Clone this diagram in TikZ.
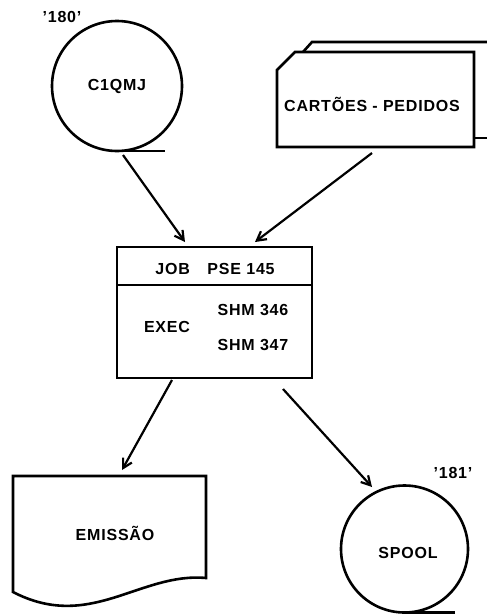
\documentclass[tikz,border=0pt]{standalone}
\usepackage{fontspec}
\setmainfont{Liberation Sans}[LetterSpace=5]
\usetikzlibrary{arrows.meta}
\begin{document}
\begin{tikzpicture}[x=1pt,y=-1pt,
  every node/.style={font=\fontsize{16}{18}\selectfont\bfseries, inner sep=0pt, outer sep=0pt},
  shapeline/.style={line width=2.6pt},
  storage/.style={circle, draw, shapeline},
  holder/.style={draw=none},
  arr/.style={line width=2.2pt, -{Straight Barb[length=9pt,width=10pt,line width=2.2pt]}}
]
\path[use as bounding box] (0,0) rectangle (487,614);

% C1QMJ disk
\node[storage, minimum size=130pt] (c1) at (117,86) {};
\node (c1t) at (117,86) {C1QMJ};
\draw[shapeline] (c1.south) -- ++(48,0);
\node (l180) at (62,17) {'180'};

% cards
\node[holder, minimum width=197pt, minimum height=95pt] (cards) at (375.5,99.5) {};
\draw[shapeline] (303,52) -- (312,42) -- (487,42);
\draw[shapeline] (cards.east |- 0,138) -- (487,138);
\draw[shapeline] (277,70) -- (295,52) -- (cards.north east) -- (cards.south east) -- (cards.south west) -- cycle;
\node (cardst) at (372,104) {CARTÕES - PEDIDOS};

% job box
\node[draw, shapeline, minimum width=195pt, minimum height=131pt] (job) at (214.5,312.5) {};
\draw[shapeline] ([shift={(0,38)}]job.north west) -- ([shift={(0,38)}]job.north east);
\node (jobt) at (215,269) {JOB\hspace{1.1em}PSE 145};
\node (exec) at (167,327) {EXEC};
\node (s346) at (253,310) {SHM 346};
\node (s347) at (253,345) {SHM 347};

% EMISSAO document
\node[holder, minimum width=193pt, minimum height=102pt] (emi) at (109.5,527) {};
\draw[shapeline] (206,578) .. controls (140,572) and (90,632) .. (13,592) -- (emi.north west) -- (emi.north east) -- cycle;
\node (emit) at (115,533) {EMISSÃO};

% SPOOL disk
\node[storage, minimum size=127pt] (spool) at (404.5,549) {};
\draw[shapeline] (spool.south) -- ++(50,0);
\node (spoolt) at (408,553) {SPOOL};
\node (l181) at (453,473) {'181'};

% connectors
\draw[arr] ([shift={(6,4)}]c1.south) -- ([shift={(-29.5,-5)}]job.north);
\draw[arr] ([shift={(-3.5,6)}]cards.south) -- ([shift={(40.5,-5)}]job.north);
\draw[arr] ([shift={(-42.5,2)}]job.south) -- ([shift={(12.5,-6)}]emi.north);
\draw[arr] ([shift={(68.5,11)}]job.south) -- ([shift={(-32.5,-62)}]spool.center);
\end{tikzpicture}
\end{document}
